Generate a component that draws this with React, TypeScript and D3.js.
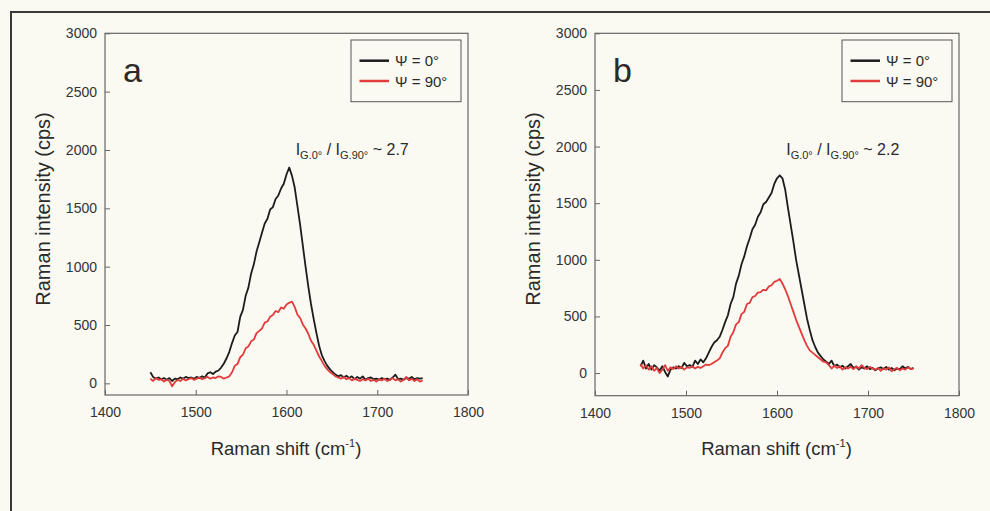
import React, { useEffect, useRef } from 'react';
import * as d3 from 'd3';

// Raman shift grid of the recorded spectra (cm-1), one sample every 3 cm-1
const shift = d3.range(1450, 1751, 3);

const xTicks = [1400, 1500, 1600, 1700, 1800];
const yTicks = [0, 500, 1000, 1500, 2000, 2500, 3000];
const legendLabels = ['Ψ = 0°', 'Ψ = 90°'];

// panel a, Ψ = 0°
const blackA = [
  95, 55, 40, 50, 35, 45, 30, 45, 20, 40,
  35, 50, 40, 55, 45, 50, 40, 55, 45, 60,
  50, 85, 95, 80, 100, 110, 135, 170, 215, 270,
  345, 410, 440, 570, 630, 750, 820, 940, 1020, 1130,
  1210, 1290, 1370, 1410, 1490, 1510, 1580, 1610, 1670, 1710,
  1790, 1850, 1780, 1680, 1520, 1360, 1180, 1000, 830, 680,
  550, 430, 320, 240, 190, 150, 120, 95, 75, 60,
  70, 50, 65, 45, 60, 35, 55, 40, 60, 30,
  45, 50, 35, 40, 30, 45, 35, 40, 30, 50,
  75, 35, 40, 30, 45, 40, 55, 35, 45, 40,
  45,
];

// panel a, Ψ = 90°
const redA = [
  40, 20, 45, 30, 35, 15, 30, 20, -25, 10,
  30, 20, 40, 25, 35, 45, 30, 40, 50, 35,
  45, 55, 40, 50, 45, 60, 55, 40, 50, 60,
  95, 150, 165, 225, 245, 300, 315, 360, 375, 430,
  450, 470, 520, 530, 570, 585, 620, 610, 650, 640,
  675, 690, 700, 655, 590, 560, 505, 470, 425, 365,
  330, 280, 230, 190, 150, 120, 95, 80, 60, 50,
  40, 55, 35, 45, 25, 40, 30, 20, 35, 25,
  40, 20, 30, 15, 35, 25, 40, 20, 30, 45,
  25, 35, 15, 30, 55, 25, 40, 20, 35, 15,
  25,
];

// panel b, Ψ = 0°
const blackB = [
  60, 110, 40, 80, 30, 70, 50, 20, 60, 10,
  -30, 30, 50, 40, 60, 45, 90, 60, 70, 55,
  110, 80, 120, 95, 130, 180, 230, 270, 290, 320,
  380, 450, 510, 610, 670, 790, 860, 960, 1030, 1120,
  1190, 1270, 1310, 1380, 1420, 1490, 1510, 1550, 1590, 1670,
  1720, 1745, 1720, 1620, 1460, 1310, 1160, 1000, 870, 740,
  610, 480, 380, 290, 230, 180, 150, 120, 100, 80,
  110, 60, 75, 50, 65, 40, 60, 80, 45, 55,
  30, 50, 40, 60, 35, 45, 25, 40, 50, 35,
  55, 30, 45, 25, 40, 35, 60, 40, 55, 35,
  45,
];

// panel b, Ψ = 90°
const redB = [
  80, 40, 70, 30, 60, 20, 45, 0, 30, 70,
  20, 50, 35, 60, 40, 55, 30, 50, 45, 60,
  40, 55, 45, 60, 75, 70, 80, 95, 110, 130,
  180, 220, 240, 320, 360, 430, 450, 520, 540, 610,
  620, 670, 680, 710, 715, 735, 730, 765, 775, 805,
  815, 830, 790, 740, 680, 610, 540, 470, 410, 350,
  290, 240, 200, 180, 160, 140, 120, 100, 95, 70,
  40, 65, 45, 60, 30, 50, 40, 55, 35, 60,
  40, 70, 45, 35, 55, 40, 30, 45, 20, 40,
  30, 50, 15, 35, 45, 25, 40, 30, 50, 35,
  40,
];

const panels = [
  { letter: 'a', black: blackA, red: redA, yMin: -100, ratio: '2.7', left: 105, right: 468, top: 33.3, bottom: 395 },
  { letter: 'b', black: blackB, red: redB, yMin: -200, ratio: '2.2', left: 595, right: 959, top: 33.3, bottom: 395.7 },
];

const FONT = '"Liberation Sans", Arial, sans-serif';
const BLACK = '#1c1c1c';
const RED = '#e23b3b';

const App = () => {
  const svgRef = useRef<SVGSVGElement>(null);

  useEffect(() => {
    const svg = d3.select(svgRef.current);
    svg.selectAll('*').remove();

    svg.append('rect').attr('width', 990).attr('height', 511).attr('fill', '#fafaf3');
    // outer figure border (runs off the picture at right and bottom)
    svg.append('path').attr('d', 'M11,520V12H1000')
      .attr('fill', 'none').attr('stroke', '#3a3a3a').attr('stroke-width', 2);

    panels.forEach((p) => {
      const x = d3.scaleLinear().domain([1400, 1800]).range([p.left, p.right]);
      const y = d3.scaleLinear().domain([p.yMin, 3000]).range([p.bottom, p.top]);
      const g = svg.append('g');

      const xAxis = g.append('g')
        .attr('transform', `translate(0,${p.bottom})`)
        .call(d3.axisBottom(x).tickValues(xTicks).tickSize(-5).tickPadding(12).tickFormat(d3.format('d')));
      const yAxis = g.append('g')
        .attr('transform', `translate(${p.left},0)`)
        .call(d3.axisLeft(y).tickValues(yTicks).tickSize(-5).tickPadding(8).tickFormat(d3.format('d')));
      [xAxis, yAxis].forEach((a) => {
        a.select('.domain').remove();
        a.selectAll('line').attr('stroke', '#666');
        a.selectAll('text').attr('fill', '#333').style('font-family', FONT).style('font-size', '14px');
      });

      g.append('rect')
        .attr('x', p.left).attr('y', p.top)
        .attr('width', p.right - p.left).attr('height', p.bottom - p.top)
        .attr('fill', 'none').attr('stroke', '#666').attr('stroke-width', 1.2);

      const line = d3.line<number>().x((_, i) => x(shift[i])).y((d) => y(d));
      g.append('path').datum(p.black).attr('d', line)
        .attr('fill', 'none').attr('stroke', BLACK).attr('stroke-width', 1.8).attr('stroke-linejoin', 'round');
      g.append('path').datum(p.red).attr('d', line)
        .attr('fill', 'none').attr('stroke', RED).attr('stroke-width', 1.8).attr('stroke-linejoin', 'round');

      // panel letter
      g.append('text').attr('x', p.left + 18).attr('y', 82)
        .style('font-family', FONT).style('font-size', '34px').attr('fill', '#2a2a2a').text(p.letter);

      // legend
      const lx = p.right - 117;
      const leg = g.append('g').attr('transform', `translate(${lx},40)`);
      leg.append('rect').attr('width', 110).attr('height', 61.7)
        .attr('fill', 'none').attr('stroke', '#555').attr('stroke-width', 1);
      legendLabels.forEach((lab, i) => {
        const ry = 20.7 + i * 20.3;
        leg.append('line').attr('x1', 8.5).attr('x2', 38).attr('y1', ry).attr('y2', ry)
          .attr('stroke', i === 0 ? BLACK : RED).attr('stroke-width', 2.5);
        leg.append('text').attr('x', 44).attr('y', ry + 5.5)
          .style('font-family', FONT).style('font-size', '15px').attr('fill', '#2a2a2a').text(lab);
      });

      // intensity ratio annotation
      const ann = g.append('text').attr('x', x(1620) - 9).attr('y', 155)
        .style('font-family', FONT).style('font-size', '16px').attr('fill', '#2a2a2a');
      ann.append('tspan').text('I');
      ann.append('tspan').attr('dy', 4).style('font-size', '11px').text('G.0°');
      ann.append('tspan').attr('dy', -4).text(' / I');
      ann.append('tspan').attr('dy', 4).style('font-size', '11px').text('G.90°');
      ann.append('tspan').attr('dy', -4).text(` ~ ${p.ratio}`);

      // axis titles
      const xt = g.append('text').attr('x', (p.left + p.right) / 2 - 0.5).attr('y', 454.5)
        .attr('text-anchor', 'middle')
        .style('font-family', FONT).style('font-size', '18.5px').attr('fill', '#2a2a2a');
      xt.append('tspan').text('Raman shift (cm');
      xt.append('tspan').attr('dy', -8).style('font-size', '11px').text('-1');
      xt.append('tspan').attr('dy', 8).text(')');

      g.append('text')
        .attr('transform', `translate(${p.left - 55},209) rotate(-90)`)
        .attr('text-anchor', 'middle')
        .style('font-family', FONT).style('font-size', '20px').attr('fill', '#2a2a2a')
        .text('Raman intensity (cps)');
    });
  }, []);

  return (
    <svg
      ref={svgRef}
      width={990}
      height={511}
      style={{ position: 'absolute', left: 0, top: 0, display: 'block' }}
    />
  );
};

export default App;
